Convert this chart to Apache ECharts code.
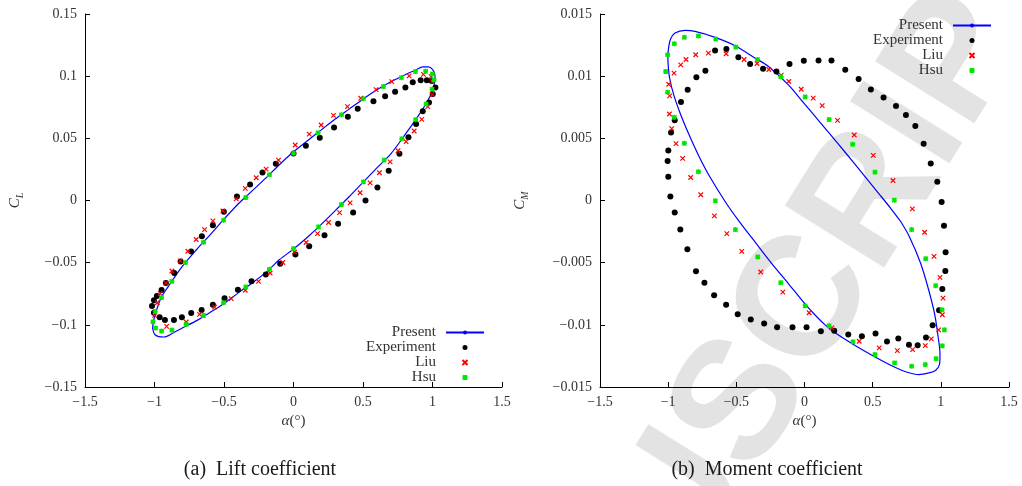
<!DOCTYPE html>
<html>
<head>
<meta charset="utf-8">
<title>Lift and moment coefficient loops</title>
<script src="https://cdn.jsdelivr.net/npm/echarts@6/dist/echarts.min.js"></script>
<style>
  html, body { margin: 0; padding: 0; background: #fff; }
  #chart { width: 1022px; height: 486px; }
</style>
</head>
<body>
<div id="chart"></div>
<script>
// ---- data: [alpha (deg), coefficient] ----

// (a) lift coefficient
const liftPresent = [
  [-1.014,-0.1025],[-1.005,-0.0960],[-0.985,-0.0880],[-0.95,-0.0775],[-0.9,-0.0690],[-0.8,-0.0530],
  [-0.7,-0.0398],[-0.6,-0.0276],[-0.5,-0.0150],[-0.4,-0.0030],[-0.3,0.0075],[-0.2,0.0180],
  [-0.1,0.0290],[0,0.0392],[0.1,0.0480],[0.2,0.0568],[0.3,0.0655],[0.4,0.0735],[0.5,0.0815],
  [0.6,0.0890],[0.7,0.0955],[0.8,0.1010],[0.88,0.1050],[0.93,0.1075],[0.97,0.1075],[1.0,0.1055],
  [1.015,0.1020],[1.018,0.0990],[1.012,0.0930],[0.995,0.0870],[0.96,0.0790],[0.9,0.0685],
  [0.8,0.0525],[0.7,0.0375],[0.6,0.0262],[0.5,0.0146],[0.4,0.0030],[0.3,-0.0082],[0.2,-0.0192],
  [0.1,-0.0295],[0,-0.0390],[-0.1,-0.0475],[-0.2,-0.0580],[-0.3,-0.0665],[-0.4,-0.0745],
  [-0.5,-0.0828],[-0.6,-0.0900],[-0.7,-0.0968],[-0.8,-0.1025],[-0.87,-0.1068],[-0.93,-0.1098],
  [-0.97,-0.1095],[-1.0,-0.1075],[-1.014,-0.1025]
];
const liftExperiment = [
  [-1.018,-0.0849],[-1.004,-0.0803],[-0.983,-0.0768],[-0.949,-0.0720],[-0.918,-0.0663],[-0.858,-0.0583],
  [-0.812,-0.0491],[-0.736,-0.0411],[-0.659,-0.0287],[-0.580,-0.0199],[-0.501,-0.0091],[-0.407,0.0032],
  [-0.312,0.0129],[-0.223,0.0226],[-0.127,0.0295],[0.0,0.0378],[0.089,0.0440],[0.189,0.0505],
  [0.292,0.0588],[0.391,0.0674],[0.462,0.0738],[0.575,0.0798],[0.659,0.0838],[0.731,0.0875],
  [0.805,0.0908],[0.858,0.0951],[0.915,0.0967],[0.959,0.0967],[0.994,0.0961],[1.021,0.0908],
  [1.002,0.0857],[0.975,0.0789],[0.930,0.0717],[0.882,0.0615],[0.827,0.0508],[0.762,0.0376],
  [0.685,0.0239],[0.604,0.0105],[0.518,0.0],[0.429,-0.0097],[0.321,-0.0188],[0.223,-0.0279],
  [0.113,-0.0368],[0.014,-0.0435],[-0.096,-0.0508],[-0.199,-0.0596],[-0.302,-0.0650],[-0.400,-0.0717],
  [-0.496,-0.0787],[-0.580,-0.0838],[-0.661,-0.0881],[-0.736,-0.0905],[-0.803,-0.0940],[-0.860,-0.0961],
  [-0.925,-0.0961],[-0.963,-0.0940],[-1.004,-0.0902]
];
const liftLiu = [
  [-0.999,-0.0924],[-0.980,-0.0822],[-0.959,-0.0749],[-0.918,-0.0663],[-0.875,-0.0567],[-0.815,-0.0486],
  [-0.760,-0.0408],[-0.700,-0.0314],[-0.640,-0.0234],[-0.580,-0.0164],[-0.508,-0.0083],[-0.412,0.0013],
  [-0.347,0.0097],[-0.268,0.0183],[-0.197,0.0252],[-0.108,0.0325],[0.012,0.0446],[0.113,0.0534],
  [0.199,0.0607],[0.288,0.0685],[0.388,0.0755],[0.484,0.0822],[0.594,0.0892],[0.707,0.0956],
  [0.832,0.1002],[0.935,0.1015],[0.990,0.0996],[0.999,0.0956],[0.997,0.0854],[0.966,0.0755],
  [0.923,0.0653],[0.868,0.0559],[0.810,0.0473],[0.752,0.0400],[0.695,0.0311],[0.618,0.0223],
  [0.551,0.0142],[0.479,0.0062],[0.407,-0.0019],[0.331,-0.0097],[0.252,-0.0177],[0.173,-0.0266],
  [0.091,-0.0338],[0.007,-0.0414],[-0.077,-0.0499],[-0.168,-0.0583],[-0.252,-0.0650],[-0.347,-0.0722],
  [-0.448,-0.0789],[-0.568,-0.0857],[-0.676,-0.0916],[-0.772,-0.0977],[-0.913,-0.1012]
];
const liftHsu = [
  [-1.011,-0.0975],[-0.992,-0.1026],[-0.949,-0.1050],[-0.875,-0.1042],[-0.772,-0.0996],[-0.647,-0.0924],
  [-0.503,-0.0822],[-0.343,-0.0695],[-0.173,-0.0553],[0.0,-0.0387],[0.180,-0.0212],[0.345,-0.0032],
  [0.503,0.0150],[0.652,0.0325],[0.779,0.0497],[0.879,0.0650],[0.954,0.0776],[0.997,0.0894],
  [1.011,0.0969],[0.999,0.1018],[0.951,0.1039],[0.877,0.1037],[0.776,0.0988],[0.647,0.0916],
  [0.503,0.0819],[0.345,0.0690],[0.177,0.0545],[0.0,0.0381],[-0.173,0.0207],[-0.343,0.0024],
  [-0.503,-0.0158],[-0.647,-0.0336],[-0.776,-0.0499],[-0.875,-0.0650],[-0.949,-0.0781],[-0.995,-0.0892]
];

// (b) moment coefficient
const momentPresent = [
  [-1.002,0.01170],[-0.996,0.01235],[-0.983,0.01297],[-0.950,0.01347],[-0.876,0.01368],[-0.803,0.01360],
  [-0.656,0.01312],[-0.509,0.01245],[-0.362,0.01145],[-0.264,0.01078],[-0.118,0.00930],[0.0,0.00777],
  [0.0565,0.00704],[0.178,0.00545],[0.301,0.00384],[0.423,0.00221],[0.545,0.00056],[0.631,-0.00061],
  [0.667,-0.00113],[0.704,-0.00167],[0.765,-0.00282],[0.851,-0.00503],[0.912,-0.00724],[0.956,-0.00921],
  [0.981,-0.01102],[0.994,-0.01239],[0.990,-0.01319],[0.961,-0.01367],[0.912,-0.01387],[0.838,-0.01400],
  [0.753,-0.01381],[0.667,-0.01343],[0.521,-0.01260],[0.374,-0.01168],[0.227,-0.01066],[0.147,-0.00996],
  [0.081,-0.00925],[0.007,-0.00836],[-0.115,-0.00672],[-0.237,-0.00511],[-0.359,-0.00339],[-0.482,-0.00164],
  [-0.580,-0.00012],[-0.702,0.00205],[-0.775,0.00358],[-0.849,0.00535],[-0.910,0.00696],[-0.959,0.00849],
  [-0.990,0.00989],[-1.001,0.01110],[-1.002,0.01170]
];
const momentExperiment = [
  [-0.005,0.01124],[0.103,0.01126],[0.198,0.01126],[0.299,0.01051],[0.397,0.00978],[0.487,0.00892],
  [0.580,0.00828],[0.671,0.00761],[0.744,0.00688],[0.813,0.00599],[0.874,0.00457],[0.926,0.00298],
  [0.974,0.00151],[1.006,-0.00013],[1.023,-0.00204],[1.035,-0.00417],[1.033,-0.00567],[1.011,-0.00712],
  [0.987,-0.00882],[0.940,-0.01003],[0.891,-0.01102],[0.830,-0.01164],[0.766,-0.01161],[0.688,-0.01110],
  [0.605,-0.01134],[0.521,-0.01070],[0.421,-0.01091],[0.321,-0.01078],[0.218,-0.01048],[0.120,-0.01051],
  [0.015,-0.01019],[-0.088,-0.01019],[-0.201,-0.01019],[-0.296,-0.00989],[-0.394,-0.00957],[-0.490,-0.00914],
  [-0.575,-0.00839],[-0.663,-0.00763],[-0.734,-0.00661],[-0.796,-0.00570],[-0.859,-0.00392],[-0.911,-0.00234],
  [-0.952,-0.00097],[-0.984,0.00032],[-0.999,0.00191],[-1.004,0.00317],[-0.999,0.00403],[-0.979,0.00546],
  [-0.952,0.00645],[-0.906,0.00793],[-0.857,0.00890],[-0.793,0.00992],[-0.727,0.01043],[-0.656,0.01207],
  [-0.573,0.01218],[-0.485,0.01153],[-0.399,0.01097],[-0.304,0.01059],[-0.206,0.01038],[-0.110,0.01097]
];
const momentLiu = [
  [-0.996,0.00935],[-0.989,0.00841],[-0.991,0.00696],[-0.974,0.00578],[-0.942,0.00457],[-0.894,0.00339],
  [-0.835,0.00185],[-0.761,0.00046],[-0.661,-0.00124],[-0.570,-0.00266],[-0.460,-0.00409],[-0.321,-0.00575],
  [-0.159,-0.00737],[0.034,-0.00903],[0.201,-0.01024],[0.401,-0.01132],[0.548,-0.01185],[0.681,-0.01207],
  [0.793,-0.01199],[0.886,-0.01167],[0.930,-0.01113],[0.984,-0.01040],[1.011,-0.00919],[1.016,-0.00785],
  [0.994,-0.00618],[0.950,-0.00449],[0.881,-0.00255],[0.791,-0.00067],[0.649,0.00161],[0.504,0.00363],
  [0.365,0.00527],[0.242,0.00645],[0.130,0.00763],[0.064,0.00823],[-0.024,0.00895],[-0.115,0.00957],
  [-0.171,0.01008],[-0.262,0.01054],[-0.348,0.01102],[-0.443,0.01134],[-0.575,0.01180],[-0.705,0.01185],
  [-0.798,0.01172],[-0.869,0.01134],[-0.908,0.01091],[-0.957,0.01024]
];
const momentHsu = [
  [-1.004,0.01172],[-0.955,0.01261],[-0.881,0.01312],[-0.778,0.01323],[-0.651,0.01298],[-0.504,0.01234],
  [-0.345,0.01134],[-0.174,0.00995],[0.005,0.00833],[0.181,0.00651],[0.353,0.00452],[0.517,0.00228],
  [0.659,0.00003],[0.786,-0.00234],[0.889,-0.00468],[0.962,-0.00685],[1.009,-0.00879],[1.026,-0.01040],
  [1.011,-0.01169],[0.965,-0.01272],[0.886,-0.01320],[0.786,-0.01333],[0.661,-0.01306],[0.517,-0.01239],
  [0.355,-0.01137],[0.181,-0.01008],[0.005,-0.00847],[-0.174,-0.00661],[-0.343,-0.00454],[-0.507,-0.00234],
  [-0.654,-0.00003],[-0.778,0.00231],[-0.881,0.00460],[-0.955,0.00669],[-1.004,0.00871],[-1.018,0.01038]
];

// axis ranges
const alphaRange = { min: -1.5, max: 1.5, step: 0.5 };
const liftRange = { min: -0.15, max: 0.15, step: 0.05 };
const momentRange = { min: -0.015, max: 0.015, step: 0.005 };

const seriesNames = ['Present', 'Experiment', 'Liu', 'Hsu'];
const captions = ['(a)\u2002Lift coefficient', '(b)\u2002Moment coefficient'];

// ---- styling ----
const SERIF = '"Liberation Serif", "Times New Roman", serif';
const TEXT = '#333';
const BLUE = '#0000ff';
const CLEAR = 'rgba(0,0,0,0)';
const crossPath = 'path://M0,0L10,10M10,0L0,10';
const starPath = 'path://M0,0L10,10M10,0L0,10M5,-1L5,11M-1,5L11,5';

function tickText(v) {
  const s = String(parseFloat(Number(v).toPrecision(6)));
  return s.replace('-', '\u2212');
}

function xAxisFor(gi) {
  return {
    gridIndex: gi, type: 'value',
    min: alphaRange.min, max: alphaRange.max, interval: alphaRange.step,
    name: '{i|\u03b1}(\u00b0)', nameLocation: 'middle', nameGap: 27,
    nameTextStyle: {
      fontFamily: SERIF, fontSize: 15, color: TEXT,
      rich: { i: { fontFamily: SERIF, fontSize: 15, fontStyle: 'italic', color: TEXT } }
    },
    axisLine: { show: true, onZero: false, lineStyle: { color: '#000', width: 1 } },
    axisTick: { show: true, inside: true, length: 5, lineStyle: { color: '#000', width: 1 } },
    axisLabel: { formatter: tickText, fontFamily: SERIF, fontSize: 14, color: TEXT, margin: 8 },
    splitLine: { show: false }
  };
}

function yAxisFor(gi, range, sub, gap) {
  return {
    gridIndex: gi, type: 'value',
    min: range.min, max: range.max, interval: range.step,
    name: '{c|C}{s|' + sub + '}', nameLocation: 'middle', nameGap: gap,
    nameTextStyle: {
      fontFamily: SERIF, color: TEXT,
      rich: {
        c: { fontFamily: SERIF, fontSize: 15, fontStyle: 'italic', color: TEXT, lineHeight: 20, verticalAlign: 'middle' },
        s: { fontFamily: SERIF, fontSize: 10, fontStyle: 'italic', color: TEXT, lineHeight: 20, verticalAlign: 'bottom', padding: [8, 0, 0, 0] }
      }
    },
    axisLine: { show: true, onZero: false, lineStyle: { color: '#000', width: 1 } },
    axisTick: { show: true, inside: true, length: 5, lineStyle: { color: '#000', width: 1 } },
    axisLabel: { formatter: tickText, fontFamily: SERIF, fontSize: 14, color: TEXT, margin: 8 },
    splitLine: { show: false }
  };
}

function seriesFor(gi, present, exp, liu, hsu) {
  return [
    {
      name: seriesNames[0], type: 'line', xAxisIndex: gi, yAxisIndex: gi,
      data: present, showSymbol: false, symbol: 'none', smooth: 0.3,
      lineStyle: { color: BLUE, width: 1.2 }, itemStyle: { color: BLUE }, z: 2
    },
    {
      name: seriesNames[1], type: 'scatter', xAxisIndex: gi, yAxisIndex: gi,
      data: exp, symbol: 'circle', symbolSize: 6,
      itemStyle: { color: '#000', opacity: 1 }, z: 3
    },
    {
      name: seriesNames[2], type: 'scatter', xAxisIndex: gi, yAxisIndex: gi,
      data: liu, symbol: crossPath, symbolSize: 4.5,
      itemStyle: { color: CLEAR, borderColor: '#ff0000', borderWidth: 1.2, opacity: 1 }, z: 4
    },
    {
      name: seriesNames[3], type: 'scatter', xAxisIndex: gi, yAxisIndex: gi,
      data: hsu, symbol: starPath, symbolSize: 5,
      itemStyle: { color: CLEAR, borderColor: '#00e600', borderWidth: 1.4, opacity: 1 }, z: 5
    }
  ];
}

function legendAt(right, top) {
  return {
    orient: 'vertical', align: 'right', right: right, top: top, padding: 0,
    itemWidth: 38, itemHeight: 5, itemGap: 0,
    selectedMode: false,
    textStyle: { fontFamily: SERIF, fontSize: 15, color: TEXT, lineHeight: 14.5, padding: [0, 5, 0, 0] },
    data: seriesNames
  };
}

const chart = echarts.init(document.getElementById('chart'), null, { renderer: 'canvas' });

chart.setOption({
  animation: false,
  backgroundColor: '#fff',
  grid: [
    { left: 85, top: 14, width: 417, height: 373, containLabel: false },
    { left: 600, top: 14, width: 409, height: 373, containLabel: false }
  ],
  xAxis: [xAxisFor(0), xAxisFor(1)],
  yAxis: [yAxisFor(0, liftRange, 'L', 60), yAxisFor(1, momentRange, 'M', 70)],
  legend: [legendAt(537, 325), legendAt(30, 18)],
  graphic: [
    {
      // faint diagonal watermark behind the right panel
      type: 'text', x: 443, y: 885, rotation: 58 * Math.PI / 180, z: -10, silent: true,
      style: {
        text: 'MANUSCRIPT', font: 'bold 170px "Liberation Sans", Arial, sans-serif',
        fill: '#e3e3e3', align: 'left', verticalAlign: 'middle'
      }
    },
    {
      type: 'text', x: 260, y: 470, silent: true,
      style: { text: captions[0], font: '20px ' + SERIF, fill: '#1a1a1a', align: 'center', verticalAlign: 'middle' }
    },
    {
      type: 'text', x: 767, y: 470, silent: true,
      style: { text: captions[1], font: '20px ' + SERIF, fill: '#1a1a1a', align: 'center', verticalAlign: 'middle' }
    }
  ],
  series: [
    ...seriesFor(0, liftPresent, liftExperiment, liftLiu, liftHsu),
    ...seriesFor(1, momentPresent, momentExperiment, momentLiu, momentHsu)
  ]
});
</script>
</body>
</html>
